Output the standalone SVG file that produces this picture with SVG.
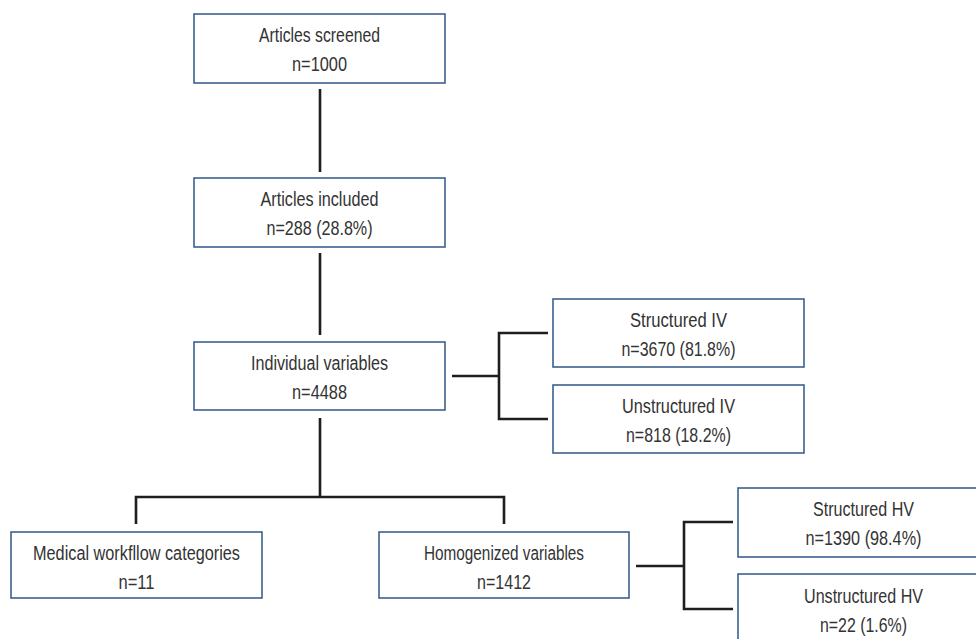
<svg xmlns="http://www.w3.org/2000/svg" width="976" height="639" viewBox="0 0 976 639">
<style>
.box{fill:#ffffff;stroke:#3b6190;stroke-width:1.6}
.lbl{font-family:"Liberation Sans",Arial,sans-serif;font-size:19.5px;fill:#333333;text-anchor:middle}
.con{fill:none;stroke:#1e1e1e;stroke-width:2.6;stroke-linecap:butt;stroke-linejoin:miter}
</style>
<rect width="976" height="639" fill="#ffffff"/>
<g id="connectors">
<path class="con" d="M320 89V172"/>
<path class="con" d="M320 253V335"/>
<path class="con" d="M320 418V497M136 524V497H504V524"/>
<path class="con" d="M452 376H499M548 333H499V419H548"/>
<path class="con" d="M636 566H684M733 522H684V609H733"/>
</g>
<g id="n1">
<rect class="box" x="194" y="14" width="251" height="69"/>
<text class="lbl" x="319.5" y="42" textLength="121" lengthAdjust="spacingAndGlyphs">Articles screened</text>
<text class="lbl" x="319.5" y="71" textLength="55" lengthAdjust="spacingAndGlyphs">n=1000</text>
</g>
<g id="n2">
<rect class="box" x="194" y="178" width="251" height="69"/>
<text class="lbl" x="319.5" y="206" textLength="118" lengthAdjust="spacingAndGlyphs">Articles included</text>
<text class="lbl" x="319.5" y="235" textLength="106" lengthAdjust="spacingAndGlyphs">n=288 (28.8%)</text>
</g>
<g id="n3">
<rect class="box" x="194" y="342" width="251" height="68"/>
<text class="lbl" x="319.5" y="370" textLength="137" lengthAdjust="spacingAndGlyphs">Individual variables</text>
<text class="lbl" x="319.5" y="399" textLength="55" lengthAdjust="spacingAndGlyphs">n=4488</text>
</g>
<g id="n4">
<rect class="box" x="553" y="299" width="251" height="68"/>
<text class="lbl" x="678.5" y="327" textLength="97" lengthAdjust="spacingAndGlyphs">Structured IV</text>
<text class="lbl" x="678.5" y="356" textLength="114" lengthAdjust="spacingAndGlyphs">n=3670 (81.8%)</text>
</g>
<g id="n5">
<rect class="box" x="553" y="385" width="251" height="68"/>
<text class="lbl" x="678.5" y="413" textLength="113" lengthAdjust="spacingAndGlyphs">Unstructured IV</text>
<text class="lbl" x="678.5" y="442" textLength="105" lengthAdjust="spacingAndGlyphs">n=818 (18.2%)</text>
</g>
<g id="n6">
<rect class="box" x="11" y="532" width="251" height="66"/>
<text class="lbl" x="136.5" y="560" textLength="207" lengthAdjust="spacingAndGlyphs">Medical workfllow categories</text>
<text class="lbl" x="136.5" y="589" textLength="36" lengthAdjust="spacingAndGlyphs">n=11</text>
</g>
<g id="n7">
<rect class="box" x="379" y="532" width="250" height="66"/>
<text class="lbl" x="504" y="560" textLength="160" lengthAdjust="spacingAndGlyphs">Homogenized variables</text>
<text class="lbl" x="504" y="589" textLength="54" lengthAdjust="spacingAndGlyphs">n=1412</text>
</g>
<g id="n8">
<rect class="box" x="738" y="488" width="251" height="69"/>
<text class="lbl" x="863.5" y="516" textLength="101" lengthAdjust="spacingAndGlyphs">Structured HV</text>
<text class="lbl" x="863.5" y="545" textLength="116" lengthAdjust="spacingAndGlyphs">n=1390 (98.4%)</text>
</g>
<g id="n9">
<rect class="box" x="738" y="574" width="251" height="70"/>
<text class="lbl" x="863.5" y="603" textLength="119" lengthAdjust="spacingAndGlyphs">Unstructured HV</text>
<text class="lbl" x="863.5" y="632" textLength="87" lengthAdjust="spacingAndGlyphs">n=22 (1.6%)</text>
</g>
</svg>
